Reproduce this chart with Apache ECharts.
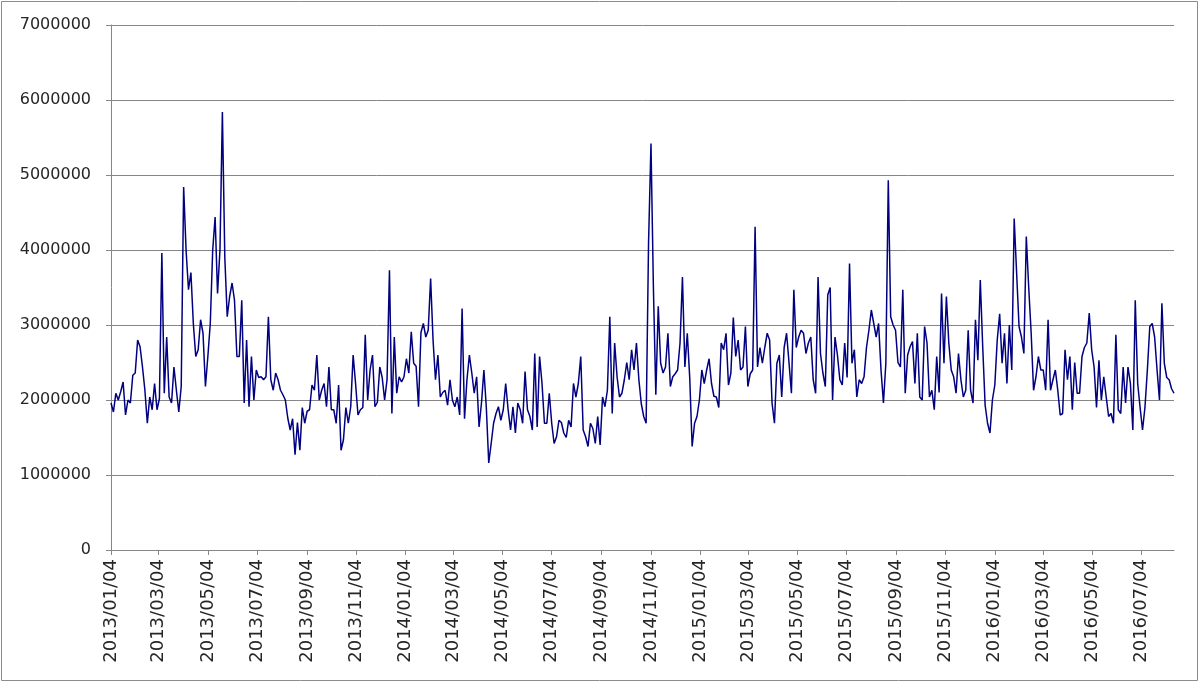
<!DOCTYPE html>
<html>
<head>
<meta charset="utf-8">
<script src="https://cdn.jsdelivr.net/npm/echarts@6/dist/echarts.min.js"></script>
<style>
  html, body { margin: 0; padding: 0; background: #fff; }
  #chart { width: 1200px; height: 683px; }
</style>
</head>
<body>
<div id="chart"></div>
<script>
// first day of the series and how many days the axis covers
const startDate = '2013/01/04';
const dayCount = 1318;
// one reading every 3 days
const sampleStep = 3;

const tickLabels = [
    '2013/01/04', '2013/03/04', '2013/05/04', '2013/07/04', '2013/09/04', '2013/11/04',
    '2014/01/04', '2014/03/04', '2014/05/04', '2014/07/04', '2014/09/04', '2014/11/04',
    '2015/01/04', '2015/03/04', '2015/05/04', '2015/07/04', '2015/09/04', '2015/11/04',
    '2016/01/04', '2016/03/04', '2016/05/04', '2016/07/04'
];

const yTicks = [0, 1000000, 2000000, 3000000, 4000000, 5000000, 6000000, 7000000];

const dailyValues = [
    1960000, 1840000, 2090000, 2000000, 2110000, 2240000, 1800000, 2000000, 1960000, 2330000,
    2360000, 2800000, 2710000, 2440000, 2130000, 1690000, 2040000, 1870000, 2220000, 1870000,
    2020000, 3960000, 2090000, 2840000, 2040000, 1960000, 2440000, 2130000, 1840000, 2180000,
    4840000, 4000000, 3470000, 3700000, 3020000, 2580000, 2670000, 3070000, 2890000, 2180000,
    2580000, 3020000, 4000000, 4440000, 3420000, 4000000, 5840000, 3900000, 3110000, 3380000,
    3560000, 3330000, 2580000, 2580000, 3330000, 1960000, 2800000, 1910000, 2580000, 2000000,
    2400000, 2300000, 2310000, 2270000, 2310000, 3110000, 2270000, 2130000, 2360000, 2270000,
    2130000, 2070000, 2000000, 1760000, 1600000, 1750000, 1270000, 1700000, 1330000, 1900000,
    1690000, 1850000, 1870000, 2200000, 2130000, 2600000, 2000000, 2130000, 2220000, 1910000,
    2440000, 1870000, 1870000, 1690000, 2200000, 1330000, 1470000, 1900000, 1690000, 1910000,
    2600000, 2220000, 1800000, 1870000, 1900000, 2870000, 2000000, 2400000, 2600000, 1910000,
    1970000, 2440000, 2300000, 2000000, 2270000, 3730000, 1820000, 2840000, 2090000, 2310000,
    2240000, 2310000, 2550000, 2360000, 2910000, 2490000, 2450000, 1910000, 2900000, 3020000,
    2840000, 2930000, 3620000, 2800000, 2270000, 2600000, 2040000, 2100000, 2130000, 1930000,
    2270000, 2000000, 1910000, 2040000, 1800000, 3220000, 1750000, 2270000, 2600000, 2360000,
    2090000, 2310000, 1640000, 1960000, 2400000, 1900000, 1160000, 1420000, 1690000, 1820000,
    1910000, 1730000, 1870000, 2220000, 1870000, 1600000, 1910000, 1560000, 1960000, 1870000,
    1690000, 2380000, 1870000, 1780000, 1600000, 2620000, 1640000, 2580000, 2220000, 1690000,
    1690000, 2090000, 1690000, 1420000, 1510000, 1730000, 1700000, 1560000, 1500000, 1730000,
    1640000, 2220000, 2040000, 2220000, 2580000, 1600000, 1510000, 1380000, 1690000, 1620000,
    1420000, 1780000, 1400000, 2040000, 1910000, 2130000, 3110000, 1820000, 2760000, 2310000,
    2040000, 2090000, 2270000, 2500000, 2270000, 2670000, 2400000, 2760000, 2270000, 1950000,
    1780000, 1690000, 4100000, 5420000, 3500000, 2070000, 3250000, 2490000, 2360000, 2440000,
    2890000, 2180000, 2310000, 2350000, 2400000, 2760000, 3640000, 2440000, 2890000, 2300000,
    1380000, 1690000, 1780000, 2000000, 2400000, 2220000, 2400000, 2550000, 2220000, 2050000,
    2040000, 1900000, 2760000, 2670000, 2890000, 2200000, 2360000, 3100000, 2580000, 2800000,
    2400000, 2440000, 2980000, 2180000, 2350000, 2400000, 4310000, 2440000, 2700000, 2490000,
    2700000, 2890000, 2800000, 1960000, 1690000, 2490000, 2600000, 2040000, 2700000, 2890000,
    2500000, 2090000, 3470000, 2700000, 2840000, 2930000, 2890000, 2620000, 2760000, 2840000,
    2270000, 2090000, 3640000, 2620000, 2360000, 2180000, 3400000, 3500000, 2000000, 2840000,
    2600000, 2270000, 2200000, 2760000, 2300000, 3820000, 2490000, 2670000, 2040000, 2270000,
    2220000, 2310000, 2700000, 2930000, 3200000, 3020000, 2840000, 3020000, 2400000, 1960000,
    2490000, 4930000, 3110000, 3000000, 2930000, 2500000, 2440000, 3470000, 2090000, 2600000,
    2710000, 2780000, 2220000, 2890000, 2040000, 2000000, 2980000, 2760000, 2040000, 2130000,
    1870000, 2580000, 2100000, 3420000, 2490000, 3380000, 2760000, 2400000, 2310000, 2090000,
    2620000, 2270000, 2040000, 2130000, 2930000, 2130000, 1960000, 3070000, 2530000, 3600000,
    2710000, 1930000, 1690000, 1560000, 2000000, 2200000, 2800000, 3150000, 2490000, 2890000,
    2220000, 3000000, 2400000, 4420000, 3700000, 2980000, 2840000, 2620000, 4180000, 3500000,
    2900000, 2130000, 2310000, 2580000, 2400000, 2400000, 2130000, 3070000, 2130000, 2270000,
    2400000, 2130000, 1800000, 1820000, 2670000, 2270000, 2580000, 1870000, 2500000, 2090000,
    2090000, 2580000, 2700000, 2760000, 3160000, 2670000, 2440000, 1900000, 2530000, 2000000,
    2310000, 2040000, 1780000, 1820000, 1690000, 2870000, 1870000, 1820000, 2440000, 1960000,
    2440000, 2220000, 1600000, 3330000, 2220000, 1900000, 1600000, 1900000, 2400000, 2980000,
    3020000, 2840000, 2400000, 2000000, 3290000, 2490000, 2300000, 2270000, 2150000, 2090000
];

function pad(n) { return n < 10 ? '0' + n : '' + n; }

// every day on the axis, so that the tick labels fall on the right dates
function buildDates(start, count) {
    const [y, m, d] = start.split('/').map(Number);
    const t0 = Date.UTC(y, m - 1, d);
    const out = [];
    for (let i = 0; i < count; i++) {
        const dt = new Date(t0 + i * 86400000);
        out.push(dt.getUTCFullYear() + '/' + pad(dt.getUTCMonth() + 1) + '/' + pad(dt.getUTCDate()));
    }
    return out;
}

const dates = buildDates(startDate, dayCount);
const tickSet = new Set(tickLabels);
const seriesData = dailyValues.map((v, i) => [dates[i * sampleStep], v]);

const chart = echarts.init(document.getElementById('chart'));
const gray = '#868686';
const textColor = '#262626';

const option = {
    animation: false,
    backgroundColor: '#fff',
    graphic: [{
        type: 'rect',
        shape: { x: 1.5, y: 1.5, width: 1196, height: 679 },
        style: { fill: 'none', stroke: '#8c8c8c', lineWidth: 1 },
        silent: true
    }],
    grid: { left: 111, right: 26, top: 25, bottom: 133, containLabel: false },
    xAxis: {
        type: 'category',
        data: dates,
        boundaryGap: false,
        axisLine: { lineStyle: { color: gray, width: 1 } },
        axisTick: {
            show: true,
            length: 5,
            interval: (idx, val) => tickSet.has(val),
            lineStyle: { color: gray }
        },
        axisLabel: {
            interval: (idx, val) => tickSet.has(val),
            rotate: 90,
            margin: 9,
            color: textColor,
            fontFamily: 'DejaVu Sans',
            fontSize: 18
        },
        splitLine: { show: false }
    },
    yAxis: {
        type: 'value',
        min: yTicks[0],
        max: yTicks[yTicks.length - 1],
        interval: yTicks[1] - yTicks[0],
        axisLine: { show: true, lineStyle: { color: gray, width: 1 } },
        axisTick: { show: true, length: 5, lineStyle: { color: gray } },
        axisLabel: {
            margin: 20,
            color: textColor,
            fontFamily: 'DejaVu Sans',
            fontSize: 16,
            formatter: v => String(v)
        },
        splitLine: { lineStyle: { color: gray, width: 1 } }
    },
    series: [{
        type: 'line',
        data: seriesData,
        showSymbol: false,
        symbol: 'none',
        lineStyle: { color: '#000080', width: 1.5 }
    }]
};

chart.setOption(option);
</script>
</body>
</html>
